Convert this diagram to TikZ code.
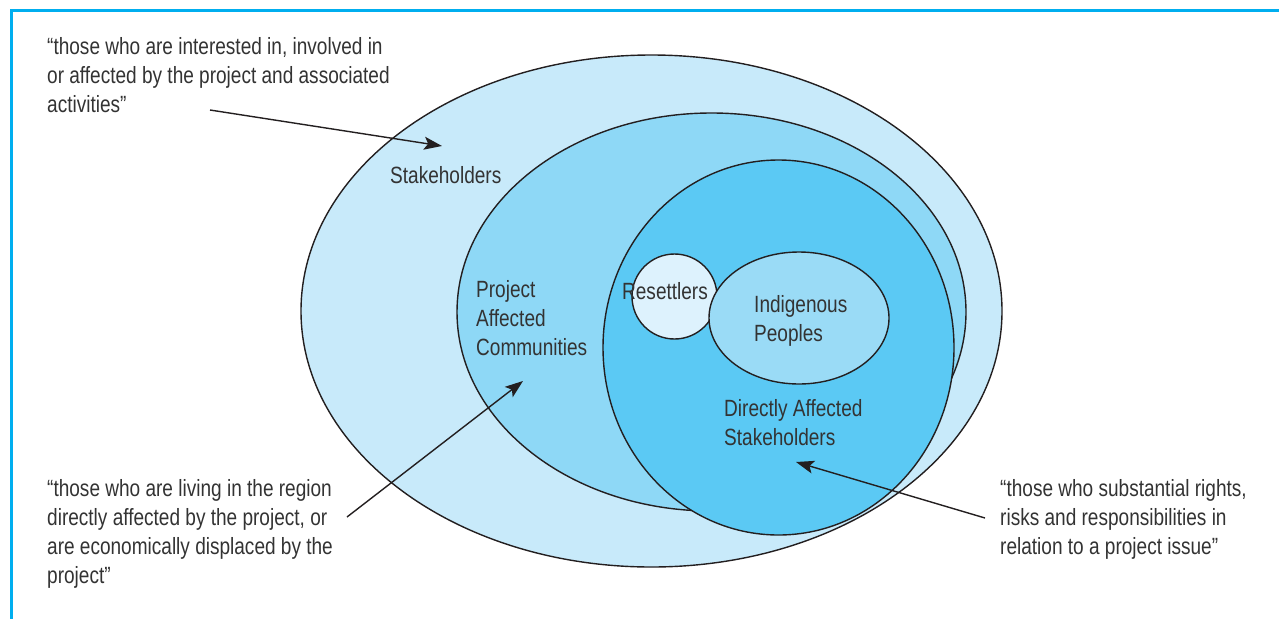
\documentclass[tikz,border=0pt]{standalone}
\usepackage{fontspec}
\setmainfont{Liberation Sans}[FakeStretch=0.81]
\usetikzlibrary{arrows.meta,shapes.geometric}
\definecolor{framecyan}{HTML}{00AEEF}
\definecolor{outline}{HTML}{231F20}
\definecolor{textgray}{HTML}{333333}
\definecolor{stakefill}{HTML}{C8EAFA}
\definecolor{commfill}{HTML}{8ED8F6}
\definecolor{directfill}{HTML}{5BC9F4}
\definecolor{indigfill}{HTML}{9ADBF6}
\definecolor{resetfill}{HTML}{DDF2FD}
\tikzset{
  group/.style={ellipse,draw=outline,line width=1.4pt,inner sep=0pt},
  lbl/.style={anchor=base west,inner sep=0pt,align=left,text=textgray},
  pointer/.style={draw=outline,line width=1.4pt,-{Stealth[length=18pt,width=13pt,inset=4pt]}}
}

\begin{document}
\begin{tikzpicture}[x=1pt,y=-1pt,font=\fontsize{23.5}{29}\selectfont]
	\useasboundingbox (0,0) rectangle (1279,619);
	% frame
	\draw [framecyan,line width=3pt] (1279,10) -- (11,10) -- (11,619);
	% nested groups
	\node (stake) at (651.5,311) [group,fill=stakefill,minimum width=701pt,minimum height=512pt] {};
	\node (comm) at (711.5,312) [group,fill=commfill,minimum width=509pt,minimum height=398pt] {};
	\node (direct) at (778.5,347.5) [group,fill=directfill,minimum width=351pt,minimum height=375pt] {};
	\node (reset) at (674.5,296.5) [group,fill=resetfill,minimum width=85pt,minimum height=85pt] {};
	\node (indig) at (799,318) [group,fill=indigfill,minimum width=180pt,minimum height=132pt] {};
	% labels (base = last line)
	\node (stakelbl) at (390,183) [lbl] {Stakeholders};
	\node (commlbl) at (476,355) [lbl] {Project\\Affected\\Communities};
	\node (resetlbl) at (665,299) [lbl,anchor=base] {Resettlers};
	\node (indiglbl) at (754,341) [lbl] {Indigenous\\Peoples};
	\node (directlbl) at (724,445) [lbl] {Directly Affected\\Stakeholders};
	% quotes
	\node (stakeq) at (47,112) [lbl] {“those who are interested in, involved in\\or affected by the project and associated\\activities”};
	\node (commq) at (47,583) [lbl] {“those who are living in the region\\directly affected by the project, or\\are economically displaced by the\\project”};
	\node (directq) at (1000,554) [lbl] {“those who substantial rights,\\risks and responsibilities in\\relation to a project issue”};
	% pointers
	\coordinate (stakefrom) at (210,110);
	\coordinate (staketo) at (442,146);
	\coordinate (commfrom) at (347,517);
	\coordinate (commto) at (523,381);
	\coordinate (directfrom) at (985,518);
	\coordinate (directto) at (796,462);
	\draw [pointer] (stakefrom) -- (staketo);
	\draw [pointer] (commfrom) -- (commto);
	\draw [pointer] (directfrom) -- (directto);
\end{tikzpicture}
\end{document}
